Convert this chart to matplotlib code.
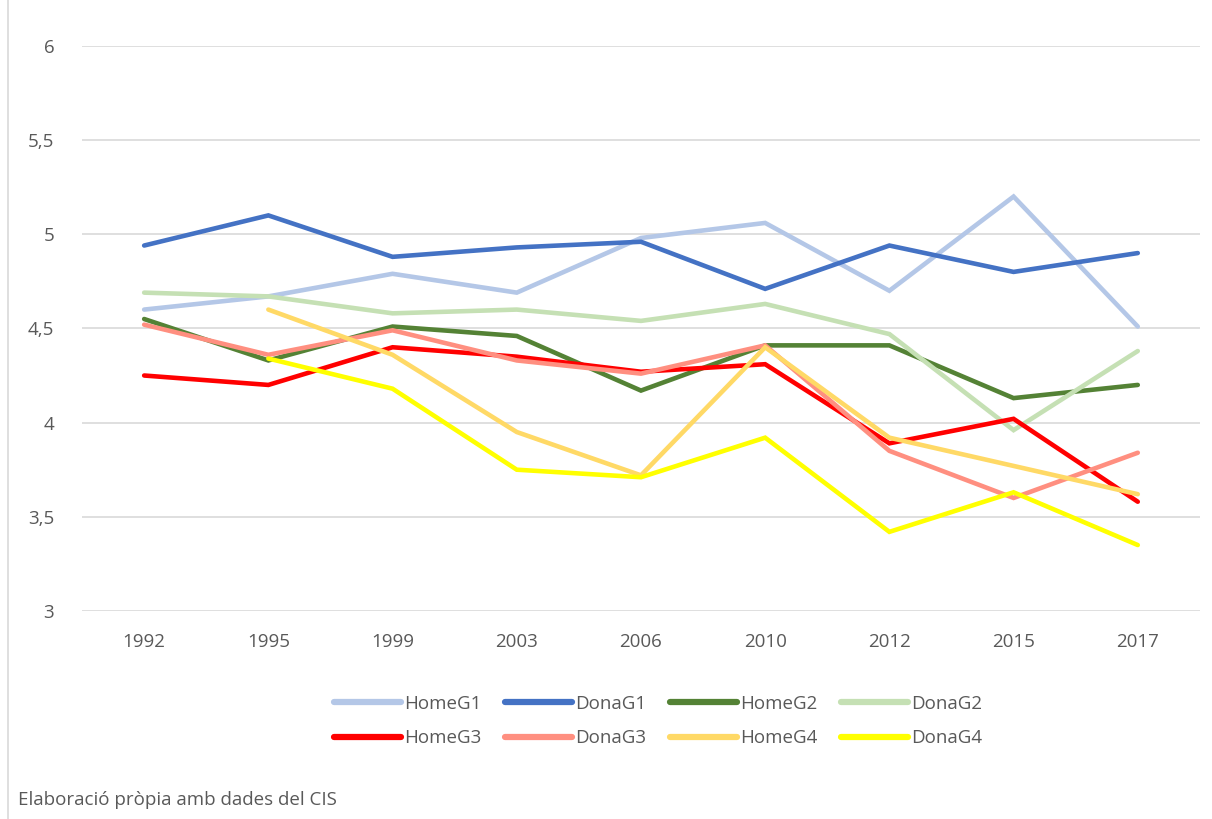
import matplotlib
matplotlib.use("Agg")
import matplotlib.pyplot as plt
from matplotlib.patches import Rectangle

years = ["1992", "1995", "1999", "2003", "2006", "2010", "2012", "2015", "2017"]

home_g1 = [4.60, 4.67, 4.79, 4.69, 4.98, 5.06, 4.70, 5.20, 4.51]
dona_g1 = [4.94, 5.10, 4.88, 4.93, 4.96, 4.71, 4.94, 4.80, 4.90]
home_g2 = [4.55, 4.33, 4.51, 4.46, 4.17, 4.41, 4.41, 4.13, 4.20]
dona_g2 = [4.69, 4.67, 4.58, 4.60, 4.54, 4.63, 4.47, 3.96, 4.38]
home_g3 = [4.25, 4.20, 4.40, 4.35, 4.27, 4.31, 3.89, 4.02, 3.58]
dona_g3 = [4.52, 4.36, 4.49, 4.33, 4.26, 4.41, 3.85, 3.60, 3.84]
home_g4 = [None, 4.60, 4.36, 3.95, 3.72, 4.40, 3.92, 3.77, 3.62]
dona_g4 = [None, 4.34, 4.18, 3.75, 3.71, 3.92, 3.42, 3.63, 3.35]

series = [
    ("HomeG1", home_g1, "#B4C7E7"),
    ("DonaG1", dona_g1, "#4472C4"),
    ("HomeG2", home_g2, "#548235"),
    ("DonaG2", dona_g2, "#C5E0B4"),
    ("HomeG3", home_g3, "#FF0000"),
    ("DonaG3", dona_g3, "#FF8F80"),
    ("HomeG4", home_g4, "#FFD966"),
    ("DonaG4", dona_g4, "#FFFF00"),
]

plt.rcParams["font.family"] = ["Open Sans", "DejaVu Sans"]
TXT = "#595959"
FS = 13.5

fig = plt.figure(figsize=(12.12, 8.19), dpi=100)
ax = fig.add_axes([0.0677, 0.254, 0.9223, 0.690])

x = list(range(len(years)))
handles = {}
for name, vals, col in series:
    xs = [i for i, v in zip(x, vals) if v is not None]
    ys = [v for v in vals if v is not None]
    h, = ax.plot(xs, ys, color=col, lw=3.3, label=name,
                 solid_capstyle="round", solid_joinstyle="miter")
    handles[name] = h

ax.set_xlim(-0.5, len(years) - 0.5)
ax.set_ylim(3, 6)
ax.set_yticks([3, 3.5, 4, 4.5, 5, 5.5, 6])
ax.set_yticklabels(["3", "3,5", "4", "4,5", "5", "5,5", "6"])
ax.set_xticks(x)
ax.set_xticklabels(years)
ax.grid(axis="y", color="#D9D9D9", lw=1.2)
ax.set_axisbelow(True)
for s in ax.spines.values():
    s.set_visible(False)
ax.tick_params(length=0, labelsize=FS, colors=TXT)
ax.tick_params(axis="y", pad=20)
ax.tick_params(axis="x", pad=16)

# legend row-wise like the original (matplotlib fills columns first)
order = ["HomeG1", "HomeG3", "DonaG1", "DonaG3", "HomeG2", "HomeG4", "DonaG2", "DonaG4"]
leg = fig.legend([handles[n] for n in order], order, ncol=4, frameon=False,
                 loc="center", bbox_to_anchor=(0.543, 1 - 721 / 819),
                 fontsize=FS, handlelength=3.6, handletextpad=0.15,
                 columnspacing=1.25, labelspacing=0.9)
for t in leg.get_texts():
    t.set_color(TXT)
for l in leg.get_lines():
    l.set_linewidth(4.5)

fig.text(18 / 1212, 1 - 800 / 819, "Elaboració pròpia amb dades del CIS",
         fontsize=FS, color=TXT, va="center", ha="left")

fig.patches.append(Rectangle((8 / 1212, -0.01), 1.2, 1.2, transform=fig.transFigure,
                             fill=False, edgecolor="#D9D9D9", lw=1.2))

fig.savefig("out.png", dpi=100)
